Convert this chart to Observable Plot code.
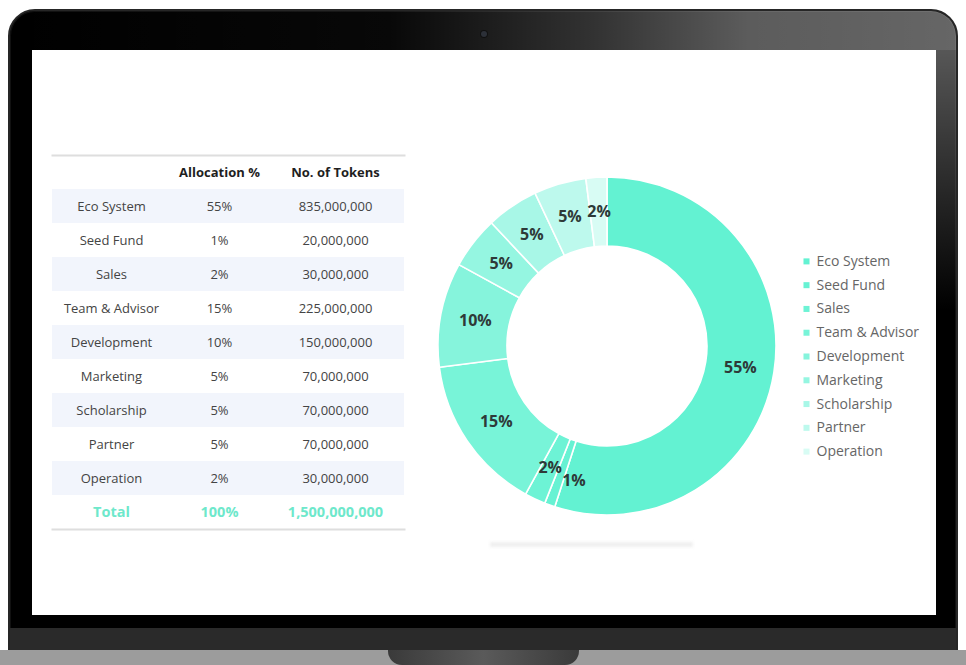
<!DOCTYPE html>
<html><head><meta charset="utf-8">
<script src="https://cdn.jsdelivr.net/npm/d3@7"></script>
<script src="https://cdn.jsdelivr.net/npm/@observablehq/plot@0.6"></script>
<style>
html,body{margin:0;padding:0;background:#fff;width:966px;height:665px;overflow:hidden;font-family:"Open Sans",sans-serif;}
#stage{position:relative;width:966px;height:665px;}
.abs{position:absolute;}
#bezel{left:8px;top:9px;width:950px;height:652px;border-radius:27px 27px 6px 6px;background:#000;box-sizing:border-box;border:2px solid #262626;box-shadow:inset 0 0 0 1px #111;}
#glare{left:10px;top:11px;width:946px;height:39px;border-radius:25px 25px 0 0;background:linear-gradient(90deg,rgba(255,255,255,0) 0%,rgba(255,255,255,0.03) 40%,rgba(255,255,255,0.2) 62%,rgba(255,255,255,0.36) 78%,rgba(255,255,255,0.4) 100%);}
#glareR{left:936px;top:50px;width:20px;height:260px;background:linear-gradient(180deg,rgba(255,255,255,0.34) 0%,rgba(255,255,255,0.0) 100%);}
#chin{left:10px;top:628px;width:946px;height:24px;background:#2a2a2a;}
#screen{left:32px;top:50px;width:904px;height:565px;background:#fff;}
#base{left:0;top:650px;width:966px;height:15px;background:#9c9c9c;}
#notch{left:388px;top:650px;width:191px;height:15px;background:linear-gradient(90deg,#3a3a3a 0%,#5a5a5a 50%,#3a3a3a 100%);border-radius:0 0 14px 14px;}
#cam{left:481px;top:31px;width:6px;height:6px;border-radius:50%;background:#2c3038;box-shadow:0 0 0 1px #111;}
#shadow{left:490px;top:542px;width:203px;height:5px;background:#efefef;filter:blur(1.5px);}
#table{left:52px;top:152px;}
#donut{left:437px;top:176px;}
#legend{left:799px;top:249px;}
</style>
</head>
<body>
<div id="stage">
  <div id="bezel" class="abs"></div>
  <div id="glare" class="abs"></div>
  <div id="glareR" class="abs"></div>
  <div id="chin" class="abs"></div>
  <div id="screen" class="abs"></div>
  <div id="cam" class="abs"></div>
  <div id="base" class="abs"></div>
  <div id="notch" class="abs"></div>
  <div id="shadow" class="abs"></div>
  <div id="table" class="abs"></div>
  <div id="donut" class="abs"></div>
  <div id="legend" class="abs"></div>
</div>
<script>
// ---- data ----
const categories = ["Eco System","Seed Fund","Sales","Team & Advisor","Development","Marketing","Scholarship","Partner","Operation"];
const allocation = [55,1,2,15,10,5,5,5,2];
const tokens = [835000000,20000000,30000000,225000000,150000000,70000000,70000000,70000000,30000000];
const headers = ["", "Allocation %", "No. of Tokens"];
const totalLabel = "Total";
const colors = ["#63f2d2","#67f2d3","#6df3d5","#78f4d8","#86f4dc","#95f6e1","#a8f7e7","#bdf9ed","#d8fcf4"];

const color = Plot.scale({color:{domain:categories, range:colors}});
const fmt = d3.format(",");
const font = '"Open Sans", sans-serif';

// ---- table ----
const cols = ["name","alloc","tokens"];
const colShift = {name:0, alloc:-4, tokens:0};
const rowsAll = ["__header", ...categories, "__total"];
const bodyRows = categories.map((c,i)=>({row:c, name:c, alloc:allocation[i]+"%", tokens:fmt(tokens[i])}));
const totalRow = {row:"__total", name:totalLabel, alloc:d3.sum(allocation)+"%", tokens:fmt(d3.sum(tokens))};
const headerCells = cols.map((c,i)=>({row:"__header", col:c, text:headers[i]})).filter(d=>d.text);
const shaded = categories.filter((_,i)=>i%2===0);
const cellsOf = rows => rows.flatMap(r => cols.map(c => ({row:r.row, col:c, text:r[c]})));
const textCols = (cells, style) => cols.map(c =>
  Plot.text(cells.filter(d=>d.col===c), {x:"col", y:"row", text:"text", dx:colShift[c], ...style}));

const table = Plot.plot({
  width:352, height:381, marginTop:3, marginBottom:4, marginLeft:0, marginRight:0,
  x:{type:"point", domain:cols, range:[58,283], padding:0, axis:null},
  y:{type:"band", domain:rowsAll, padding:0, round:false, axis:null},
  style:{fontFamily:font, background:"transparent", overflow:"visible"},
  marks:[
    Plot.cell(shaded, {y:d=>d, fill:"#f2f5fc"}),
    Plot.frame({anchor:"top", stroke:"#dedede", strokeWidth:2}),
    Plot.frame({anchor:"bottom", stroke:"#dedede", strokeWidth:2}),
    ...textCols(headerCells, {fontSize:13, fontWeight:700, fill:"#1f1f1f"}),
    ...textCols(cellsOf(bodyRows), {fontSize:13, fill:"#444"}),
    ...textCols(cellsOf([totalRow]), {fontSize:14.5, fontWeight:700, fill:"#6ee8cb"})
  ]
});
document.getElementById("table").appendChild(table);

// ---- donut ----
const slices = categories.map((c,i)=>({name:c, value:allocation[i]}));
const arcs = d3.pie().sort(null).value(d=>d.value)(slices);
const innerFrac = 100/170, outerFrac = 169/170, labelFrac = 134.5/170;
const labels = arcs.map(a => {
  const mid = (a.startAngle + a.endAngle)/2;
  return {name:a.data.name, text:a.data.value+"%", x:Math.sin(mid)*labelFrac, y:Math.cos(mid)*labelFrac};
});
const crowded = "Seed Fund"; // its label is pushed aside in the original

function donutArcs(index, scales) {
  const cx = scales.x(0), cy = scales.y(0);
  const R = scales.x(1) - scales.x(0);
  const arc = d3.arc().innerRadius(R*innerFrac).outerRadius(R*outerFrac);
  const g = d3.create("svg:g").attr("transform", `translate(${cx},${cy})`);
  g.selectAll("path").data(arcs).join("path")
    .attr("d", arc)
    .attr("fill", d => color.apply(d.data.name))
    .attr("stroke", "#fff").attr("stroke-width", 1.6).attr("stroke-linejoin","round");
  return g.node();
}

const labelStyle = {x:"x", y:"y", text:"text", fontSize:16, fontWeight:700, fill:"#2e3a38"};
const donut = Plot.plot({
  width:340, height:340, margin:0,
  x:{domain:[-1,1], axis:null},
  y:{domain:[-1,1], axis:null},
  style:{fontFamily:font, background:"transparent", overflow:"visible"},
  marks:[
    donutArcs,
    Plot.text(labels.filter(d=>d.name!==crowded), labelStyle),
    Plot.text(labels.filter(d=>d.name===crowded), {...labelStyle, dx:12, dy:8})
  ]
});
document.getElementById("donut").appendChild(donut);

// ---- legend ----
const legend = Plot.plot({
  width:140, height:214, margin:0,
  y:{type:"band", domain:categories, padding:0, round:false, axis:null},
  style:{fontFamily:font, background:"transparent", overflow:"visible"},
  marks:[
    Plot.dot(categories, {y:d=>d, frameAnchor:"left", dx:7, symbol:"square", r:3.4, fill:d=>color.apply(d), stroke:null}),
    Plot.text(categories, {y:d=>d, frameAnchor:"left", dx:17, textAnchor:"start", text:d=>d, fontSize:14, fill:"#666"})
  ]
});
document.getElementById("legend").appendChild(legend);
</script>
</body></html>
